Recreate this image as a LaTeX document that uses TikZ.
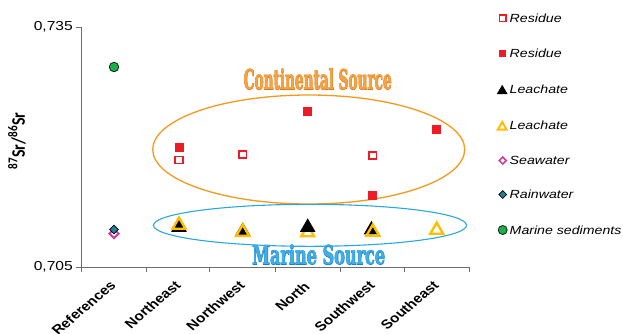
\documentclass[tikz,border=0pt]{standalone}
\usepackage{fontspec}
\setmainfont{Liberation Sans}
\newfontfamily\titlefont{Carlito}
\newfontfamily\srcfont{DejaVu Serif}
\newfontfamily\srcfontheavy[FakeBold=3]{DejaVu Serif}
\usetikzlibrary{shapes.geometric}
\definecolor{mred}{HTML}{ED1C24}
\definecolor{myel}{HTML}{FFBE00}
\definecolor{mpink}{HTML}{C8459F}
\definecolor{mteal}{HTML}{217F98}
\definecolor{mgreen}{HTML}{1DAF4B}
\definecolor{morange}{HTML}{F39A1E}
\definecolor{mblue}{HTML}{29A8E0}
\definecolor{toro}{HTML}{E07A18}
\definecolor{tori}{HTML}{F4A445}
\definecolor{tblo}{HTML}{1A80C4}
\definecolor{tbli}{HTML}{3FAEEA}
\definecolor{axisgray}{HTML}{6E6E6E}
\tikzset{
  fsq/.style={rectangle, fill=mred, minimum width=9pt, minimum height=8.5pt, inner sep=0pt},
  osq/.style={rectangle, draw=mred, fill=white, line width=1.8pt, minimum width=7.5pt, minimum height=7pt, inner sep=0pt},
  btri/.style={regular polygon, regular polygon sides=3, fill=black, minimum size=18pt, inner sep=0pt},
  ytri/.style={regular polygon, regular polygon sides=3, draw=myel, line width=2.4pt, minimum size=14.8pt, inner sep=0pt},
  pdia/.style={diamond, draw=mpink, fill=white, line width=2pt, minimum width=10pt, minimum height=10pt, inner sep=0pt},
  tdia/.style={diamond, draw=black, fill=mteal, line width=0.7pt, minimum width=9pt, minimum height=9pt, inner sep=0pt},
  gcirc/.style={circle, draw=black!80!mgreen, fill=mgreen, line width=0.8pt, minimum size=9.5pt, inner sep=0pt},
  legtext/.style={anchor=west, inner sep=0pt, font=\fontsize{11.8}{13}\selectfont\itshape},
  ticklab/.style={anchor=east, inner sep=0pt, font=\fontsize{13}{15}\selectfont},
  catlab/.style={anchor=north east, inner sep=0pt, font=\fontsize{12.8}{15}\selectfont\bfseries},
  axisline/.style={draw=axisgray, line width=0.9pt}
}
\newcommand{\hstretch}[1]{\scalebox{1.2}[1]{#1}}
\newcommand{\catrot}[1]{\scalebox{1.2}[1]{\rotatebox{45}{#1}}}
\newcommand{\outlined}[3]{\rlap{\color{#1}\srcfontheavy\bfseries #3}{\color{#2}\srcfont\bfseries #3}}
\begin{document}
\begin{tikzpicture}[x=1pt,y=-1pt]
\useasboundingbox[fill=white] (0,0) rectangle (623,333);
% axes
\coordinate (O) at (81,267);
\coordinate (T) at (81,27);
\coordinate (E) at (469,267);
\draw[axisline] (T) -- (O) -- (E);
\draw[axisline] (T) -- ++(-5,0);
\draw[axisline] (O) -- ++(-5,0);
\foreach \x in {81,146.5,209,275,340,404,469}{
  \draw[axisline] (\x,267) -- (\x,272);
}
\node[ticklab] (l735) at (73,27) {\hstretch{0,735}};
\node[ticklab] (l705) at (73,267) {\hstretch{0,705}};
\node[inner sep=0pt] (ytitle) at (17,141) {\scalebox{1.2}[1]{\rotatebox{90}{\titlefont\fontsize{16}{18}\selectfont\bfseries \textsuperscript{87}Sr/\textsuperscript{86}Sr}}};
% category labels
\node[catlab] (c1) at (117,280) {\catrot{References}};
\node[catlab] (c2) at (182,280) {\catrot{Northeast}};
\node[catlab] (c3) at (246,280) {\catrot{Northwest}};
\node[catlab] (c4) at (311,281) {\catrot{North}};
\node[catlab] (c5) at (376,280) {\catrot{Southwest}};
\node[catlab] (c6) at (440,280) {\catrot{Southeast}};
% ellipses
\node[ellipse, draw=morange, line width=1.3pt, minimum width=312pt, minimum height=109pt] (cont) at (308.7,149.5) {};
\node[ellipse, draw=mblue, line width=1.1pt, minimum width=313pt, minimum height=42pt] (mar) at (310,225.3) {};
\node[anchor=south west, inner sep=0pt] (ctext) at (243.5,90) {\resizebox{148pt}{21pt}{\outlined{toro}{tori}{Continental Source}}};
\node[anchor=south west, inner sep=0pt] (mtext) at (252,265) {\resizebox{133pt}{20pt}{\outlined{tblo}{tbli}{Marine Source}}};
% references
\node[gcirc] (ms) at (114,67) {};
\node[pdia] (sw) at (114,233.5) {};
\node[tdia] (rw) at (114,229.5) {};
% residue filled
\node[fsq] (rf1) at (179,147.7) {};
\node[fsq] (rf3) at (307.7,111.7) {};
\node[fsq] (rf4) at (372.7,195.7) {};
\node[fsq] (rf5) at (436.7,129.3) {};
% residue open
\node[osq] (ro1) at (179,160) {};
\node[osq] (ro2) at (242.7,154.3) {};
\node[osq] (ro4) at (372.7,155.7) {};
% leachate (black behind yellow, except North)
\node[btri] (lb1) at (179,227.3) {};
\node[ytri] (ly1) at (179,225) {};
\node[btri] (lb2) at (242.7,231.3) {};
\node[ytri] (ly2) at (242.7,232.1) {};
\node[ytri] (ly3) at (307.7,232.5) {};
\node[btri] (lb3) at (307.7,227.3) {};
\node[btri] (lb4) at (371.5,229.8) {};
\node[ytri] (ly4) at (372.8,232) {};
\node[ytri] (ly5) at (436.7,230) {};
% legend
\node[osq, minimum width=6.5pt, minimum height=6.5pt, line width=1.6pt] (k1) at (502.7,18.3) {};
\node[legtext] (t1) at (509.5,18.3) {\hstretch{Residue}};
\node[fsq, minimum width=7pt, minimum height=7pt] (k2) at (502.7,53.3) {};
\node[legtext] (t2) at (509.5,53.3) {\hstretch{Residue}};
\node[btri, minimum size=12.5pt] (k3) at (502.2,91) {};
\node[legtext] (t3) at (509.5,89.5) {\hstretch{Leachate}};
\node[ytri, minimum size=10pt, line width=2pt] (k4) at (502.2,127) {};
\node[legtext] (t4) at (509.5,125.5) {\hstretch{Leachate}};
\node[pdia, minimum width=7.5pt, minimum height=7.5pt, line width=1.6pt] (k5) at (502.7,160.5) {};
\node[legtext] (t5) at (509.5,160.5) {\hstretch{Seawater}};
\node[tdia, minimum width=8pt, minimum height=8pt] (k6) at (502.7,194.5) {};
\node[legtext] (t6) at (509.5,194.5) {\hstretch{Rainwater}};
\node[gcirc, minimum size=9pt] (k7) at (502.7,230) {};
\node[legtext] (t7) at (509.5,230) {\hstretch{Marine sediments}};
\end{tikzpicture}
\end{document}
